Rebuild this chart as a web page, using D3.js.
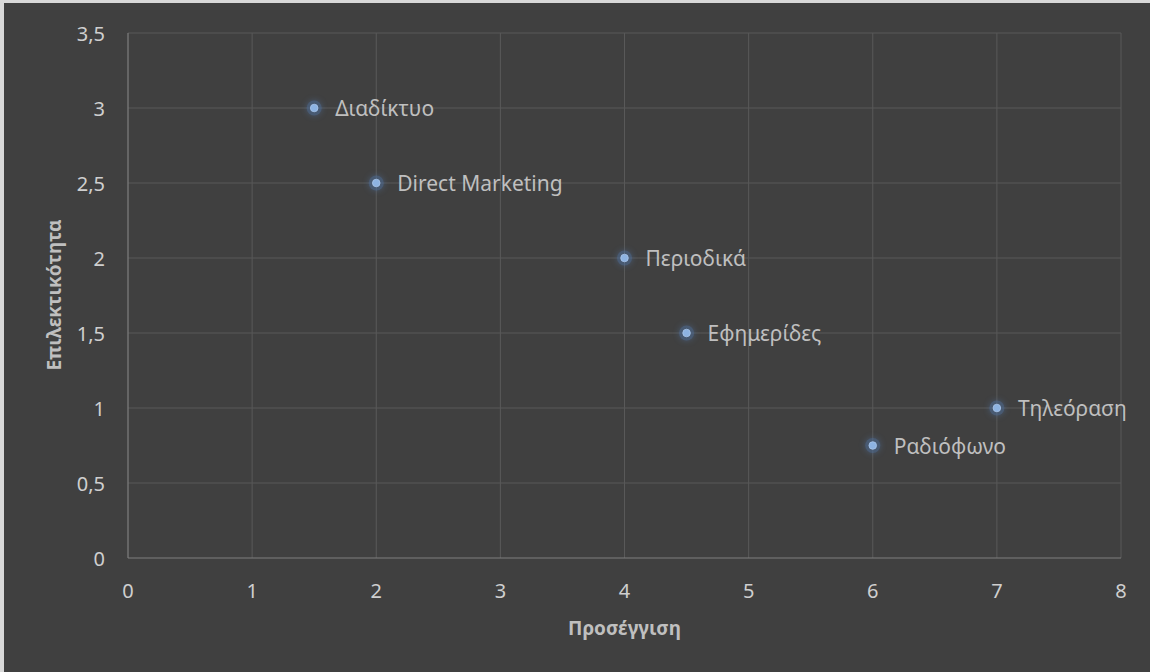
<!DOCTYPE html>
<html>
<head>
<meta charset="utf-8">
<script src="https://cdn.jsdelivr.net/npm/d3@7"></script>
<style>
  html, body { margin: 0; padding: 0; background: #d9d9d9; }
  svg { display: block; }
  text { font-family: "Noto Sans", "Open Sans", sans-serif; }
</style>
</head>
<body>
<div id="chart"></div>
<script>
// chart values
const mediaNames = ["Διαδίκτυο", "Direct Marketing", "Περιοδικά", "Εφημερίδες", "Τηλεόραση", "Ραδιόφωνο"];
const reachValues = [1.5, 2, 4, 4.5, 7, 6];
const selectivityValues = [3, 2.5, 2, 1.5, 1, 0.75];
const xTicks = [0, 1, 2, 3, 4, 5, 6, 7, 8];
const yTicks = [0, 0.5, 1, 1.5, 2, 2.5, 3, 3.5];

const width = 1150, height = 672;
const svg = d3.select("#chart").append("svg")
    .attr("width", width)
    .attr("height", height);

// dark chart area, thin light frame on the top and left
svg.append("rect")
    .attr("x", 4).attr("y", 3)
    .attr("width", width - 4).attr("height", height - 3)
    .attr("fill", "#404040");

const x = d3.scaleLinear().domain([0, 8]).range([128, 1121]);
const y = d3.scaleLinear().domain([0, 3.5]).range([558, 33]);

const fmt = d => String(d).replace(".", ",");

// gridlines
svg.append("g").selectAll("line")
    .data(xTicks.slice(1))
    .enter().append("line")
    .attr("x1", d => x(d)).attr("x2", d => x(d))
    .attr("y1", y(0)).attr("y2", y(3.5))
    .attr("stroke", "#595959").attr("stroke-width", 1);

svg.append("g").selectAll("line")
    .data(yTicks.slice(1))
    .enter().append("line")
    .attr("x1", x(0)).attr("x2", x(8))
    .attr("y1", d => y(d)).attr("y2", d => y(d))
    .attr("stroke", "#595959").attr("stroke-width", 1);

// axis lines
svg.append("line")
    .attr("x1", x(0)).attr("x2", x(8))
    .attr("y1", y(0)).attr("y2", y(0))
    .attr("stroke", "#7f7f7f").attr("stroke-width", 1.2);
svg.append("line")
    .attr("x1", x(0)).attr("x2", x(0))
    .attr("y1", y(0)).attr("y2", y(3.5))
    .attr("stroke", "#7f7f7f").attr("stroke-width", 1.2);

// tick labels
svg.append("g").selectAll("text")
    .data(xTicks)
    .enter().append("text")
    .attr("x", d => x(d))
    .attr("y", 598)
    .attr("text-anchor", "middle")
    .attr("fill", "#cfcfcf")
    .attr("font-size", 20)
    .text(fmt);

svg.append("g").selectAll("text")
    .data(yTicks)
    .enter().append("text")
    .attr("x", 105)
    .attr("y", d => y(d) + 8)
    .attr("text-anchor", "end")
    .attr("fill", "#cfcfcf")
    .attr("font-size", 20)
    .text(fmt);

// axis titles
svg.append("text")
    .attr("x", (x(0) + x(8)) / 2)
    .attr("y", 635)
    .attr("text-anchor", "middle")
    .attr("fill", "#bfbfbf")
    .attr("font-size", 19)
    .attr("font-weight", "bold")
    .text("Προσέγγιση");

svg.append("text")
    .attr("transform", `translate(61, 295) rotate(-90)`)
    .attr("text-anchor", "middle")
    .attr("fill", "#bfbfbf")
    .attr("font-size", 19)
    .attr("font-weight", "bold")
    .text("Επιλεκτικότητα");

// glow for markers
const defs = svg.append("defs");
const glow = defs.append("filter").attr("id", "glow")
    .attr("x", "-200%").attr("y", "-200%").attr("width", "500%").attr("height", "500%");
glow.append("feGaussianBlur").attr("in", "SourceGraphic").attr("stdDeviation", 3).attr("result", "blur");
const merge = glow.append("feMerge");
merge.append("feMergeNode").attr("in", "blur");
merge.append("feMergeNode").attr("in", "SourceGraphic");

const points = mediaNames.map((name, i) => ({ name, rx: reachValues[i], sy: selectivityValues[i] }));

svg.append("g").selectAll("circle.halo")
    .data(points)
    .enter().append("circle")
    .attr("cx", d => x(d.rx))
    .attr("cy", d => y(d.sy))
    .attr("r", 7.5)
    .attr("fill", "#4f6f9c")
    .attr("opacity", 0.55)
    .attr("filter", "url(#glow)");

svg.append("g").selectAll("circle.dot")
    .data(points)
    .enter().append("circle")
    .attr("cx", d => x(d.rx))
    .attr("cy", d => y(d.sy))
    .attr("r", 3.8)
    .attr("fill", "#8db3e2")
    .attr("stroke", "#a9c5ea")
    .attr("stroke-width", 0.8);

// point labels
svg.append("g").selectAll("text")
    .data(points)
    .enter().append("text")
    .attr("x", d => x(d.rx) + 21)
    .attr("y", d => y(d.sy) + 8)
    .attr("fill", "#bfbfbf")
    .attr("font-size", 21)
    .text(d => d.name);
</script>
</body>
</html>
